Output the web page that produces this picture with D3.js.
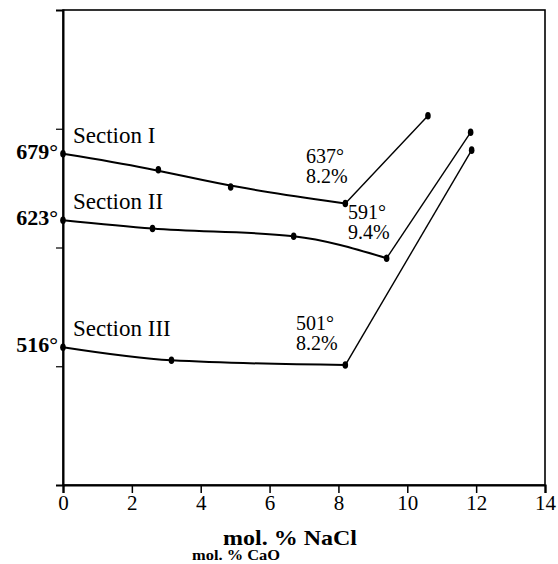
<!DOCTYPE html>
<html>
<head>
<meta charset="utf-8">
<script src="https://cdn.jsdelivr.net/npm/d3@7"></script>
<style>
  body { margin: 0; background: #fff; }
  svg text { font-family: "Liberation Serif", "Times New Roman", serif; fill: #000; }
</style>
</head>
<body>
<div id="chart"></div>
<script>
// data
const sectionNames = ["Section I", "Section II", "Section III"];
const sec1X = [0, 2.77, 4.87, 8.2];
const sec1Y = [679, 665.5, 651, 637];
const sec1End = [10.6, 711];
const sec2X = [0, 2.6, 6.7, 9.4];
const sec2Y = [623, 616, 609.5, 591];
const sec2End = [11.84, 697];
const sec3X = [0, 3.15, 8.2];
const sec3Y = [516, 505, 501];
const sec3End = [11.87, 682];
const startLabels = ["679°", "623°", "516°"];
const eutLabels = [["637°", "8.2%"], ["591°", "9.4%"], ["501°", "8.2%"]];
const xTicks = [0, 2, 4, 6, 8, 10, 12, 14];
const yTicks = [500, 600, 700];

const W = 558, H = 564;
const margin = {top: 10, right: 13, bottom: 79, left: 63};
const serif = '"Liberation Serif", "Times New Roman", serif';

const x = d3.scaleLinear().domain([0, 14]).range([margin.left, W - margin.right]);
const y = d3.scaleLinear().domain([400, 800]).range([H - margin.bottom, margin.top]);

const svg = d3.select("#chart").append("svg").attr("width", W).attr("height", H);

// frame
svg.append("rect")
  .attr("x", x(0)).attr("y", y(800))
  .attr("width", x(14) - x(0)).attr("height", y(400) - y(800))
  .attr("fill", "none").attr("stroke", "#000").attr("stroke-width", 1.6);

// axes
const xAxis = svg.append("g")
  .attr("transform", "translate(0," + y(400) + ")")
  .call(d3.axisBottom(x).tickValues(xTicks).tickSize(8).tickPadding(2).tickFormat(d3.format("d")));
xAxis.select(".domain").attr("stroke-width", 2.2);
xAxis.selectAll(".tick line").attr("stroke-width", 1.5);
xAxis.selectAll(".tick text")
  .style("font-family", serif).style("font-size", "21px");

const yAxis = svg.append("g")
  .attr("transform", "translate(" + x(0) + ",0)")
  .call(d3.axisLeft(y).tickValues(yTicks).tickSize(7).tickFormat(""));
yAxis.select(".domain").attr("stroke-width", 2);
yAxis.selectAll(".tick line").attr("stroke-width", 1.2);

const sections = [
  {xs: sec1X, ys: sec1Y, end: sec1End, curve: d3.curveBasis},
  {xs: sec2X, ys: sec2Y, end: sec2End, curve: d3.curveMonotoneX},
  {xs: sec3X, ys: sec3Y, end: sec3End, curve: d3.curveMonotoneX}
];

sections.forEach(function(s, i) {
  const pts = s.xs.map((v, j) => [v, s.ys[j]]);
  const line = d3.line().x(d => x(d[0])).y(d => y(d[1])).curve(s.curve);
  svg.append("path")
    .attr("d", line(pts))
    .attr("fill", "none").attr("stroke", "#000").attr("stroke-width", 2);

  const last = pts[pts.length - 1];
  svg.append("line")
    .attr("x1", x(last[0])).attr("y1", y(last[1]))
    .attr("x2", x(s.end[0])).attr("y2", y(s.end[1]))
    .attr("stroke", "#000").attr("stroke-width", 1.4);

  pts.concat([s.end]).forEach(function(p) {
    svg.append("ellipse")
      .attr("cx", x(p[0])).attr("cy", y(p[1]))
      .attr("rx", 2.8).attr("ry", 3.8)
      .attr("fill", "#000");
  });

  // section name
  svg.append("text")
    .attr("x", x(0) + 10).attr("y", y(s.ys[0]) - 11)
    .style("font-size", "23px")
    .text(sectionNames[i]);

  // start temperature
  svg.append("text")
    .attr("x", x(0) - 5).attr("y", y(s.ys[0]) + 5)
    .attr("text-anchor", "end")
    .style("font-size", "22px").style("font-weight", "bold")
    .text(startLabels[i]);
});

// eutectic labels
const eutPos = [[306, 163], [348, 219], [296, 330]];
eutLabels.forEach(function(lab, i) {
  svg.append("text")
    .attr("x", eutPos[i][0]).attr("y", eutPos[i][1])
    .style("font-size", "20px")
    .text(lab[0]);
  svg.append("text")
    .attr("x", eutPos[i][0]).attr("y", eutPos[i][1] + 20)
    .style("font-size", "20px")
    .text(lab[1]);
});

// axis titles
svg.append("text")
  .attr("x", 223).attr("y", 545)
  .attr("textLength", 134).attr("lengthAdjust", "spacingAndGlyphs")
  .style("font-size", "21px").style("font-weight", "bold")
  .text("mol. % NaCl");
svg.append("text")
  .attr("x", 192).attr("y", 560)
  .attr("textLength", 88).attr("lengthAdjust", "spacingAndGlyphs")
  .style("font-size", "15px").style("font-weight", "bold")
  .text("mol. % CaO");
</script>
</body>
</html>
